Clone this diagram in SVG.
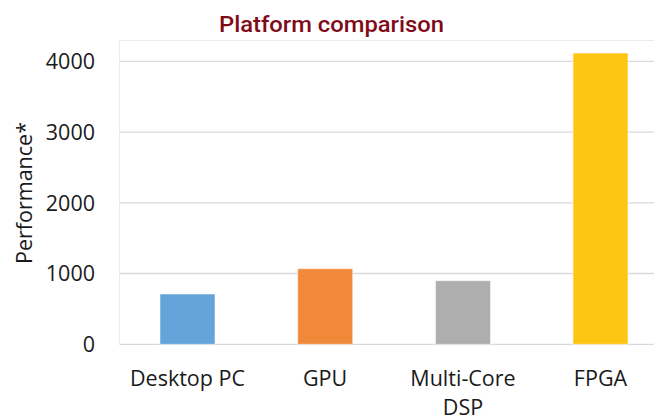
<svg xmlns="http://www.w3.org/2000/svg" width="654" height="417" viewBox="0 0 654 417">
<style>
.t{font-family:"Open Sans","Liberation Sans",sans-serif;font-size:21.5px;fill:#1a1a1a}
.tick{text-anchor:end}
.cat{text-anchor:middle}
.grid{stroke:#d9d9d9;stroke-width:1.3;fill:none}
.bar{stroke:#ffffff;stroke-opacity:0.5;stroke-width:1}
</style>
<rect width="654" height="417" fill="#ffffff"/>
<g id="title">
<text x="331.5" y="32" text-anchor="middle" font-family="Roboto,'DejaVu Sans',sans-serif" font-weight="500" font-size="22.5" fill="#7f0a18" textLength="225" lengthAdjust="spacingAndGlyphs">Platform comparison</text>
</g>
<g id="plot-area">
<path d="M119.5 344V40.5H654" stroke="#ececec" stroke-width="1" fill="none"/>
<path class="grid" d="M119.5 61.3H654M119.5 132.1H654M119.5 202.9H654M119.5 273.5H654M119.5 344.3H654"/>
</g>
<g id="y-axis">
<text class="t tick" x="95" y="69">4000</text>
<text class="t tick" x="95" y="140">3000</text>
<text class="t tick" x="95" y="210.5">2000</text>
<text class="t tick" x="95" y="281">1000</text>
<text class="t tick" x="95" y="352">0</text>
<text class="t" transform="translate(31.5 193) rotate(-90)" text-anchor="middle">Performance*</text>
</g>
<g id="bars">
<g id="bar-desktop"><rect class="bar" x="160" y="294" width="55" height="50.3" fill="#65a4da"/></g>
<g id="bar-gpu"><rect class="bar" x="297.7" y="268.7" width="55" height="75.6" fill="#f1893b"/></g>
<g id="bar-dsp"><rect class="bar" x="435.5" y="280.7" width="55" height="63.6" fill="#aeaeae"/></g>
<g id="bar-fpga"><rect class="bar" x="573" y="53" width="55" height="291.3" fill="#fec513"/></g>
</g>
<g id="x-axis">
<text class="t cat" x="187.5" y="386">Desktop PC</text>
<text class="t cat" x="325" y="386">GPU</text>
<text class="t cat" x="463" y="386">Multi-Core</text>
<text class="t cat" x="463" y="414.5">DSP</text>
<text class="t cat" x="600.5" y="386">FPGA</text>
</g>
</svg>
